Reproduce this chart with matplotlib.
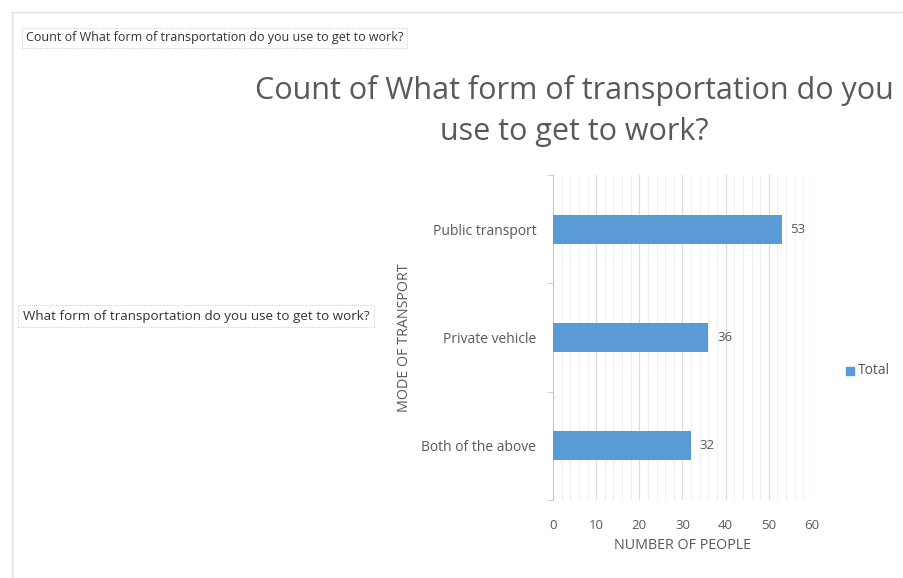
import matplotlib
matplotlib.use('Agg')
import matplotlib.pyplot as plt
from matplotlib.patches import Rectangle
import numpy as np

# data
categories = ["Both of the above", "Private vehicle", "Public transport"]
counts = [32, 36, 53]
x_ticks = [0, 10, 20, 30, 40, 50, 60]
series_name = "Total"

title = "Count of What form of transportation do you\nuse to get to work?"
filter_label = "Count of What form of transportation do you use to get to work?"
row_label = "What form of transportation do you use to get to work?"

plt.rcParams['font.family'] = ['Open Sans', 'DejaVu Sans']
bar_color = "#5B9BD5"
text_grey = "#595959"

fig = plt.figure(figsize=(9.04, 5.78), dpi=100)
ax = fig.add_axes([553/904, 1-500/578, 259/904, 325/578])

y = np.arange(len(categories))
ax.barh(y, counts, height=0.27, color=bar_color, zorder=3)
for yi, v in zip(y, counts):
	ax.text(v + 2.0, yi, str(v), va='center', ha='left', fontsize=9.5, color=text_grey)

ax.set_xlim(0, 60)
ax.set_ylim(-0.5, 2.5)
ax.set_xticks(x_ticks)
ax.set_xticks(np.arange(0, 61, 2), minor=True)
ax.grid(axis='x', which='minor', color='#f0f0f0', lw=0.8, zorder=0)
ax.grid(axis='x', which='major', color='#dcdcdc', lw=0.9, zorder=0)
ax.set_yticks(y)
ax.set_yticklabels(categories)
ax.set_yticks([-0.5, 0.5, 1.5, 2.5], minor=True)
ax.tick_params(axis='y', which='major', length=0, pad=12, labelsize=10, labelcolor=text_grey)
ax.tick_params(axis='y', which='minor', length=4, color='#c8c8c8')
ax.tick_params(axis='x', which='both', length=0, pad=14, labelsize=9.5, labelcolor=text_grey)
for s in ['top', 'right', 'bottom']:
	ax.spines[s].set_visible(False)
ax.spines['left'].set_color('#c8c8c8')

ax.set_xlabel("NUMBER OF PEOPLE", fontsize=10.3, color=text_grey, labelpad=4)
ax.set_ylabel("MODE OF TRANSPORT", fontsize=10.3, color=text_grey, labelpad=7)

# chart title (in the screenshot it touches the right edge)
fig.text(574/904, 1-111/578, title, ha='center', va='center', fontsize=22,
	color=text_grey, linespacing=1.5)

# legend
fig.patches.append(Rectangle((846/904, 1-375/578), 8/904, 8/578, transform=fig.transFigure,
	color=bar_color))
fig.text(858/904, 1-371/578, series_name, ha='left', va='center', fontsize=10, color=text_grey)

# pivot field buttons
fig.text(26/904, 1-38/578, filter_label, ha='left', va='center', fontsize=9, color='#333333',
	bbox=dict(boxstyle='square,pad=0.3', fc='white', ec='#bbbbbb', lw=0.6, ls=':'))
fig.text(23/904, 1-316/578, row_label, ha='left', va='center', fontsize=9.6, color='#333333',
	bbox=dict(boxstyle='square,pad=0.35', fc='white', ec='#bbbbbb', lw=0.6, ls=':'))

# sheet border lines
fig.add_artist(plt.Line2D([12/904, 1], [1-12/578, 1-12/578], transform=fig.transFigure,
	color='#e0e0e0', lw=1))
fig.add_artist(plt.Line2D([12/904, 12/904], [0, 1-12/578], transform=fig.transFigure,
	color='#e0e0e0', lw=1))

plt.savefig("out.png", dpi=100)
